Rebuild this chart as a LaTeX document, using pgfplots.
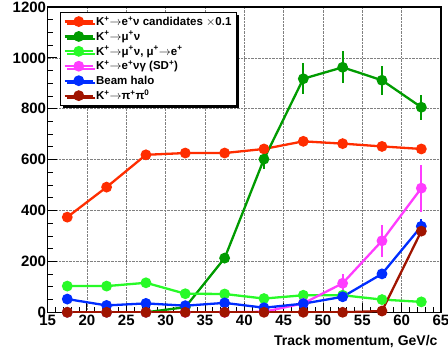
\documentclass[border=0pt]{standalone}
\usepackage{fontspec}
\setmainfont{Liberation Sans}
\usepackage{pgfplots}
\pgfplotsset{compat=1.18}
\usetikzlibrary{shadows}
\definecolor{cred}{RGB}{255,45,0}
\definecolor{cdkgreen}{RGB}{0,155,0}
\definecolor{cltgreen}{RGB}{40,250,40}
\definecolor{cpink}{RGB}{255,60,255}
\definecolor{cblue}{RGB}{0,45,255}
\definecolor{cdkred}{RGB}{160,20,0}
\begin{document}
\begin{tikzpicture}
\begin{axis}[
  scale only axis, width=393.4pt, height=305.3pt,
  xmin=15, xmax=65, ymin=0, ymax=1200,
  xtick={15,20,...,65}, ytick={0,200,...,1200},
  minor x tick num=4, minor y tick num=3,
  xtick pos=left, ytick pos=left, tick align=inside,
  major tick length=9pt, minor tick length=5pt,
  tick style={black, line width=0.9pt},
  axis line style={line width=1.6pt},
  grid=major, grid style={gray, densely dotted, line width=0.7pt},
  /pgf/number format/assume math mode=true,
  /pgf/number format/1000 sep={},
  ticklabel style={font=\fontsize{15}{16}\selectfont\bfseries},
  xticklabel style={yshift=1pt},
  yticklabel style={xshift=2pt},
  xlabel={Track momentum, GeV/c},
  xlabel style={font=\fontsize{14}{16}\selectfont\bfseries, at={(rel axis cs:1,0)}, anchor=north east, yshift=-20pt},
  legend cell align=left,
  legend style={at={(rel axis cs:0.0315,0.984)}, anchor=north west,
    font=\fontsize{11.5}{13}\selectfont\bfseries, draw=black, line width=0.8pt,
    fill=white, drop shadow={shadow xshift=2.5pt, shadow yshift=-2.5pt, fill=black, opacity=1},
    row sep=0.3pt, inner xsep=3pt, inner ysep=2pt},
  legend image code/.code={\draw[mark repeat=2, mark phase=2] plot coordinates {(0cm,0cm) (0.5cm,0cm) (1cm,0cm)};},
  every axis plot/.append style={line width=2.3pt, mark=*, mark size=4.2pt, mark options={solid, line width=0.5pt}},
  error bars/error bar style={line width=2pt},
  error bars/error mark=none,
]
\addplot[color=cred, mark options={fill=cred}] coordinates {
(17.5,374) (22.5,492) (27.5,619) (32.5,626) (37.5,626) (42.5,642) (47.5,672) (52.5,663) (57.5,652) (62.5,642)};
\addlegendentry{K\textsuperscript{+}$\rightarrow$e\textsuperscript{+}ν candidates $\times$0.1}
\addplot[color=cdkgreen, mark options={fill=cdkgreen}, error bars/.cd, y dir=both, y explicit] coordinates {
(17.5,0) +- (0,0) (22.5,0) +- (0,0) (27.5,0) +- (0,0) (32.5,20) +- (0,5) (37.5,213) +- (0,15)
(42.5,602) +- (0,38) (47.5,918) +- (0,61) (52.5,963) +- (0,63) (57.5,912) +- (0,58) (62.5,806) +- (0,49)};
\addlegendentry{K\textsuperscript{+}$\rightarrow$μ\textsuperscript{+}ν}
\addplot[color=cltgreen, mark options={fill=cltgreen}] coordinates {
(17.5,103) (22.5,103) (27.5,116) (32.5,73) (37.5,72) (42.5,54) (47.5,67) (52.5,67) (57.5,50) (62.5,41)};
\addlegendentry{K\textsuperscript{+}$\rightarrow$μ\textsuperscript{+}ν, μ\textsuperscript{+}$\rightarrow$e\textsuperscript{+}}
\addplot[color=cpink, mark options={fill=cpink}, error bars/.cd, y dir=both, y explicit] coordinates {
(17.5,0) +- (0,0) (22.5,0) +- (0,0) (27.5,0) +- (0,0) (32.5,0) +- (0,0) (37.5,0) +- (0,0)
(42.5,2) +- (0,2) (47.5,35) +- (0,10) (52.5,114) +- (0,35) (57.5,281) +- (0,62) (62.5,488) +- (0,92)};
\addlegendentry{K\textsuperscript{+}$\rightarrow$e\textsuperscript{+}νγ (SD\textsuperscript{+})}
\addplot[color=cblue, mark options={fill=cblue}, error bars/.cd, y dir=both, y explicit] coordinates {
(17.5,52) +- (0,3) (22.5,27) +- (0,3) (27.5,35) +- (0,3) (32.5,26) +- (0,3) (37.5,37) +- (0,3)
(42.5,18) +- (0,3) (47.5,34) +- (0,4) (52.5,61) +- (0,6) (57.5,151) +- (0,10) (62.5,338) +- (0,28)};
\addlegendentry{Beam halo}
\addplot[color=cdkred, mark options={fill=cdkred}] coordinates {
(17.5,0) (22.5,0) (27.5,0) (32.5,0) (37.5,0) (42.5,0) (47.5,0) (52.5,0) (57.5,5) (62.5,319)};
\addlegendentry{K\textsuperscript{+}$\rightarrow$π\textsuperscript{+}π\textsuperscript{0}}
\end{axis}
\pgfresetboundingbox
\path (-47.6pt,-41.7pt) rectangle (400.4pt,312.3pt);
\end{tikzpicture}
\end{document}
